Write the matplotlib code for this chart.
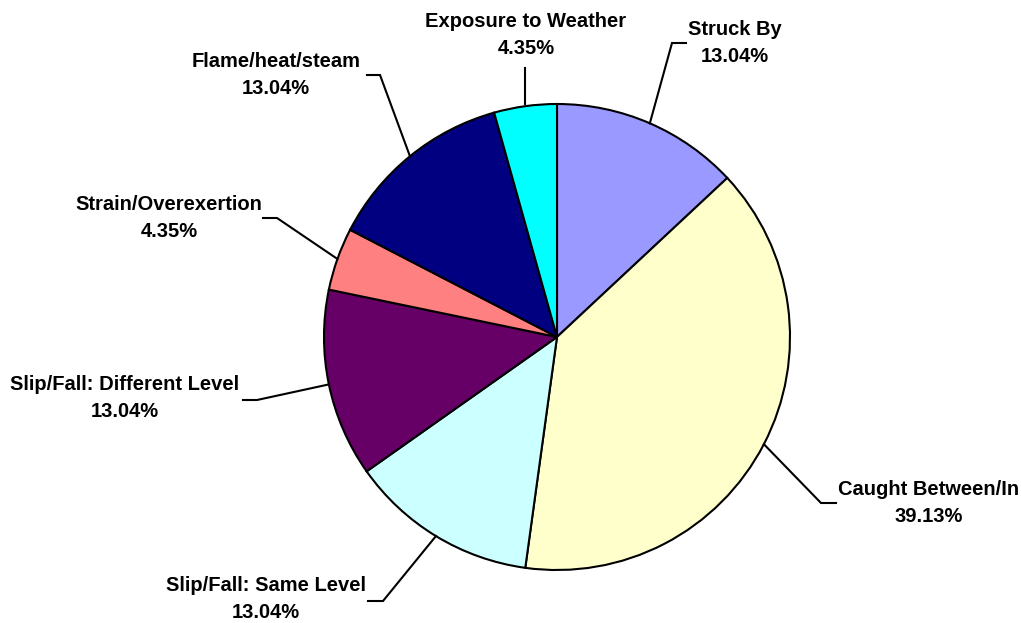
import numpy as np
import matplotlib.pyplot as plt

labels = ["Struck By", "Caught Between/In", "Slip/Fall: Same Level",
          "Slip/Fall: Different Level", "Strain/Overexertion",
          "Flame/heat/steam", "Exposure to Weather"]
counts = [3, 9, 3, 3, 1, 3, 1]
colors = ["#9999FF", "#FFFFCC", "#CCFFFF", "#660066", "#FF8080", "#000080", "#00FFFF"]

# label block centre, elbow point, end of horizontal tick
label_pos = [(735, 43), (929, 503), (266, 599), (125, 398), (169, 218), (276, 75), (526, 35)]
elbows = [(672, 43), (821, 503), (383, 601), (257, 400), (277, 218), (380, 75), None]
ticks = [(686, 43), (836, 503), (368, 601), (243, 400), (263, 218), (367, 75), None]

W, H = 1021, 623
cx, cy, r = 557, 337, 233

fig = plt.figure(figsize=(W / 100, H / 100), dpi=100)
ax = fig.add_axes([0, 0, 1, 1])

# pie drawn in a flipped axis: counterclock=True here appears clockwise
wedges, _ = ax.pie(counts, colors=colors, startangle=-90, counterclock=True,
                   center=(cx, cy), radius=r, frame=True,
                   wedgeprops=dict(edgecolor="black", linewidth=1.5))
ax.set_xlim(0, W)
ax.set_ylim(H, 0)
ax.set_aspect("equal")
ax.axis("off")

total = sum(counts)
for i, w in enumerate(wedges):
    mid = np.deg2rad((w.theta1 + w.theta2) / 2)
    ex, ey = cx + r * np.cos(mid), cy + r * np.sin(mid)
    pct = counts[i] / total * 100
    tx, ty = label_pos[i]
    ax.text(tx, ty, f"{labels[i]}\n{pct:.2f}%", ha="center", va="center",
            fontsize=14.5, fontweight="bold", family="Liberation Sans",
            linespacing=1.5)
    if elbows[i] is None:
        ax.plot([ex, ex], [ey - 2, 68], color="black", lw=1.5)
    else:
        bx, by = elbows[i]
        kx, ky = ticks[i]
        ax.plot([ex, bx, kx], [ey, by, ky], color="black", lw=1.5,
                solid_joinstyle="miter")

fig.savefig("out.png", dpi=100)
